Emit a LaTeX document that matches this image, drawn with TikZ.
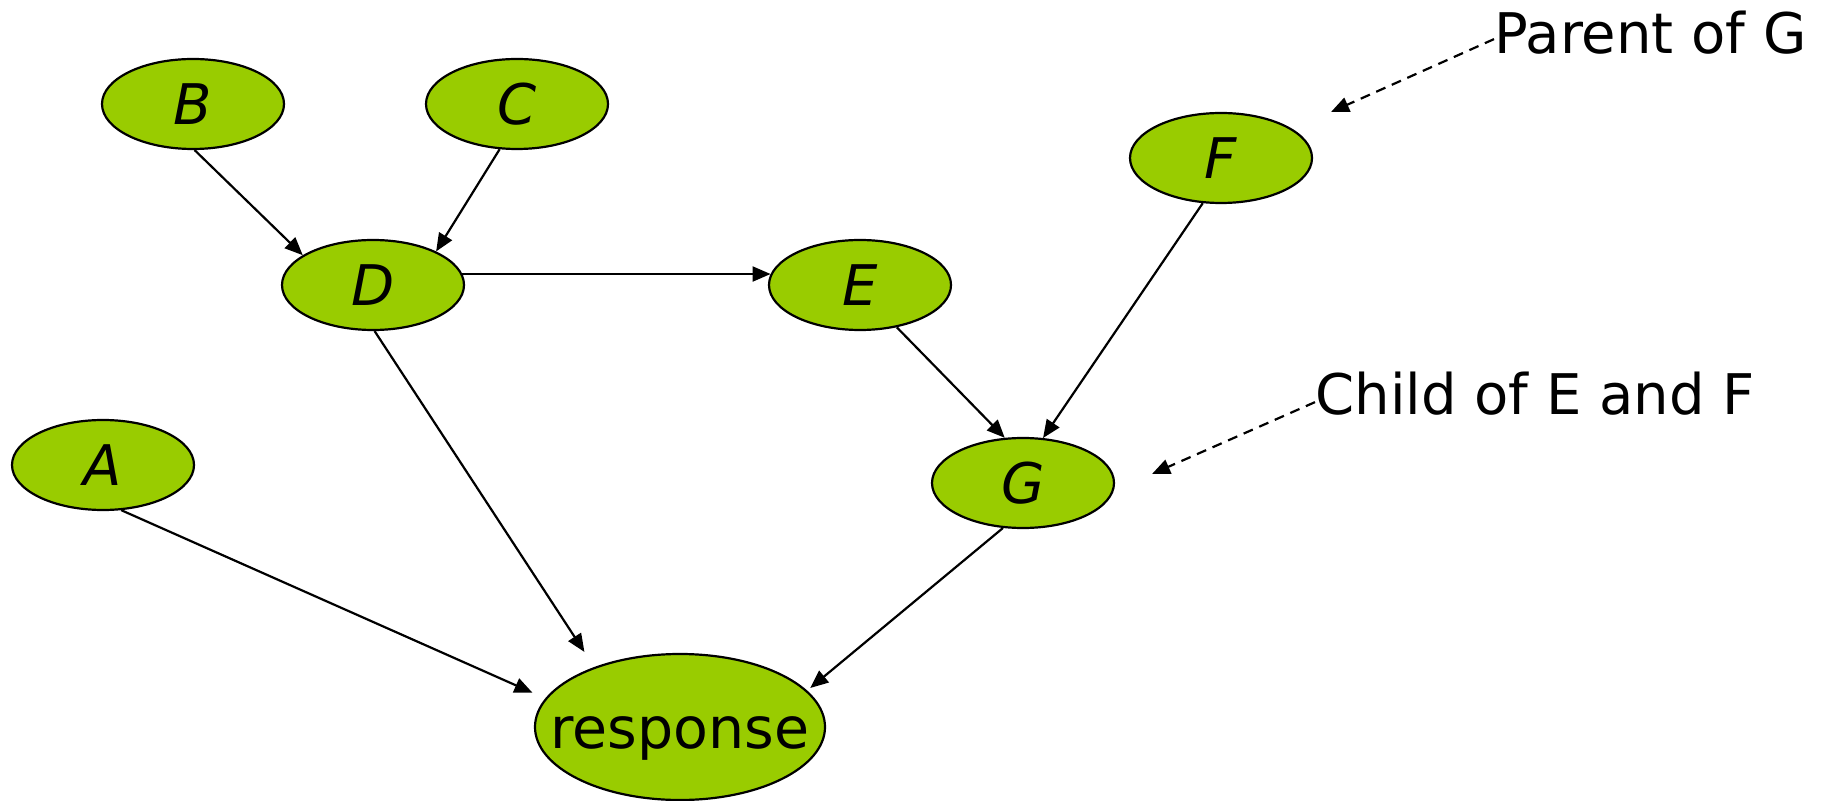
\documentclass[tikz,border=0pt]{standalone}
\usepackage{fontspec}
\setmainfont{DejaVu Sans}
\usetikzlibrary{arrows.meta,shapes.geometric}
\definecolor{nodegreen}{RGB}{153,204,0}
\begin{document}
\begin{tikzpicture}[x=0.5pt,y=-0.5pt,
  var/.style={ellipse,draw=black,line width=1.1pt,fill=nodegreen,inner sep=0pt,
    minimum width=91pt,minimum height=45pt,font=\fontsize{28}{30}\selectfont\itshape},
  resp/.style={var,minimum width=145pt,minimum height=73pt,font=\fontsize{28.5}{30}\selectfont},
  link/.style={line width=1.1pt,-{Triangle[length=9pt,width=7.5pt]}},
  hint/.style={line width=1.1pt,dash pattern=on 5pt off 3.5pt,-{Triangle[length=9pt,width=7.5pt]}},
  note/.style={inner sep=0pt,anchor=base west,font=\fontsize{28}{30}\selectfont}]
\useasboundingbox (0,0) rectangle (1834,801);
\node[var] (B) at (193,104) {B};
\node[var] (C) at (517,104) {C};
\node[var] (D) at (373,285) {D};
\node[var] (E) at (860,285) {E};
\node[var] (F) at (1221,158) {F};
\node[var] (A) at (103,465) {A};
\node[var] (G) at (1023,483) {G};
\node[resp] (R) at (680,727) {\makebox[0pt]{\raisebox{-10.5pt}[0pt][0pt]{response}}};
\node[note] (pg) at (1494,54) {Parent of G};
\node[note] (ch) at (1315,415) {Child of E and F};
\coordinate (pgtip) at (1331,112);
\coordinate (chtip) at (1152,474);
\draw[link] (B.-88) -- (D.157);
\draw[link] (C.-111) -- (D.28);
\draw[link] (D.7) -- (E.173);
\draw[link,shorten >=9pt] (D.-88) -- (R.145);
\draw[link,shorten >=7pt] (A.-68) -- (R.168);
\draw[link,shorten >=2pt] (G.-114) -- (R.16);
\draw[link] (E.-49) -- (G.112);
\draw[link] (F.-112) -- (G.66);
\draw[hint] ([yshift=-3pt]pg.west) -- (pgtip);
\draw[hint] ([yshift=-4pt]ch.west) -- (chtip);
\end{tikzpicture}
\end{document}
